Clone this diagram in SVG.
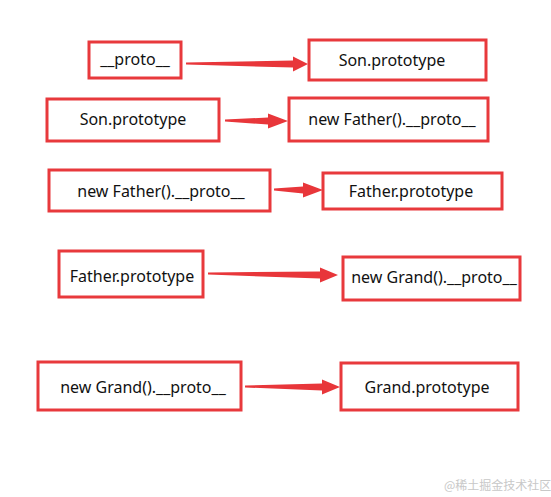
<svg xmlns="http://www.w3.org/2000/svg" width="551" height="497" viewBox="0 0 551 497">
<style>
.box{fill:#fff;stroke:#e8393c;stroke-width:3}
.lbl{font-family:"Noto Sans","Liberation Sans",sans-serif;font-size:16px;fill:#111;text-anchor:middle}
.arr{fill:#e8363a}
.wm{font-family:"Noto Sans CJK SC","Noto Sans",sans-serif;font-size:12px;fill:#c8c8c8}
</style>
<rect width="551" height="497" fill="#fff"/>
<g id="connectors">
<polygon class="arr" points="186,62.5 293,60.5 293,56.5 308,64 293,71.5 293,67.5 186,64.5"/>
<polygon class="arr" points="225,119.5 268,117.5 268,113.5 288,121 268,128.5 268,124.5 225,121.5"/>
<polygon class="arr" points="274,188.5 303,186.5 303,182.5 323,190 303,197.5 303,193.5 274,190.5"/>
<polygon class="arr" points="208,272.5 320,271.5 320,267.5 338,275 320,282.5 320,278.5 208,274.5"/>
<polygon class="arr" points="245,385.5 322,383.5 322,379.5 340,387 322,394.5 322,390.5 245,387.5"/>
</g>
<g id="n1"><rect class="box" x="89" y="42" width="92" height="36"/><text class="lbl" x="135" y="65">__proto__</text></g>
<g id="n2"><rect class="box" x="309" y="40" width="177" height="40"/><text class="lbl" x="392" y="66">Son.prototype</text></g>
<g id="n3"><rect class="box" x="47" y="99" width="172" height="42"/><text class="lbl" x="133" y="125">Son.prototype</text></g>
<g id="n4"><rect class="box" x="289" y="98" width="199" height="43"/><text class="lbl" x="392" y="125">new Father().__proto__</text></g>
<g id="n5"><rect class="box" x="49" y="170" width="221" height="41"/><text class="lbl" x="161" y="197">new Father().__proto__</text></g>
<g id="n6"><rect class="box" x="323" y="173" width="179" height="36"/><text class="lbl" x="411" y="197">Father.prototype</text></g>
<g id="n7"><rect class="box" x="59" y="251" width="144" height="46"/><text class="lbl" x="132" y="282">Father.prototype</text></g>
<g id="n8"><rect class="box" x="343" y="257" width="177" height="43"/><text class="lbl" x="434" y="283">new Grand().__proto__</text></g>
<g id="n9"><rect class="box" x="38" y="362" width="203" height="48"/><text class="lbl" x="143" y="393">new Grand().__proto__</text></g>
<g id="n10"><rect class="box" x="341" y="363" width="177" height="47"/><text class="lbl" x="427" y="393">Grand.prototype</text></g>
<text class="wm" x="444" y="490">@稀土掘金技术社区</text>
</svg>
